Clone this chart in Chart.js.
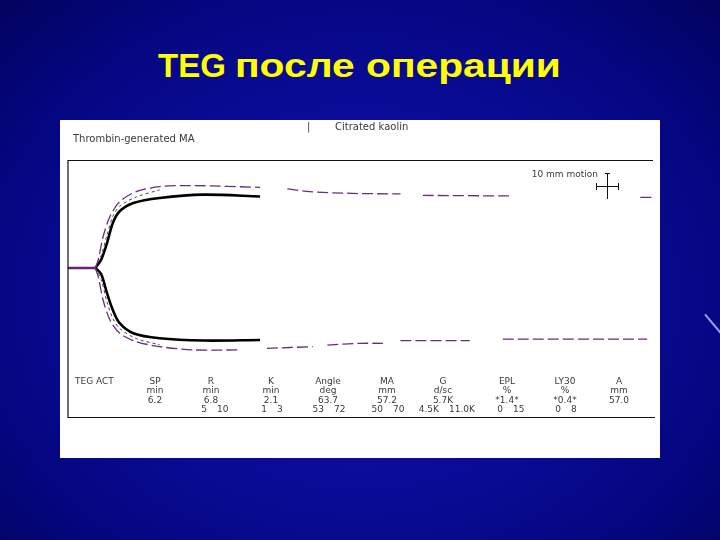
<!DOCTYPE html>
<html>
<head>
<meta charset="utf-8">
<script src="https://cdn.jsdelivr.net/npm/chart.js@4.4.0/dist/chart.umd.min.js"></script>
<style>
  html, body { margin: 0; padding: 0; }
  body {
    width: 720px; height: 540px; position: relative; overflow: hidden;
    background: radial-gradient(ellipse at 50% 55%, #1216b0 0%, #0a0c98 45%, #050680 75%, #02035e 100%);
  }
  #title {
    position: absolute; left: 158px; top: 46px; white-space: nowrap;
    font-family: "Liberation Sans", Arial, sans-serif; font-weight: bold;
    font-size: 33px; line-height: 40px; color: #ffff00;
  }
  #title span { display: inline-block; transform: scaleX(1.235); transform-origin: left center; }
  #box { position: absolute; left: 60px; top: 120px; width: 600px; height: 338px; background: #fff; }
  #deco {
    position: absolute; left: 700px; top: 324px; width: 28px; height: 2px;
    background: #c8c0ff; transform: rotate(50deg); opacity: 0.8;
  }
</style>
</head>
<body>
<div id="title">TEG <span>после операции</span></div>
<div id="box"><canvas id="tegChart" width="600" height="338"></canvas></div>
<div id="deco"></div>
<script>
// time (min) and amplitude (mm)
var baseT = [0, 2.8];
var baseAmp = [0, 0];

var curveT = [2.8, 3.4, 4.0, 4.6, 5.3, 6.7, 9.4, 13.9, 19.7];
var curveUpper = [0, 3.3, 9.9, 17.9, 22.5, 25.8, 27.8, 29.1, 28.4];
var curveLower = [0, -2.4, -10.0, -16.7, -21.9, -25.9, -27.9, -28.8, -28.6];

var innerT = [2.8, 3.4, 4.0, 4.6, 5.3, 7.0, 9.4];
var innerUpper = [0, 5.0, 13.0, 20.5, 24.5, 28.2, 31.0];
var innerLower = [0, -4.5, -13.5, -20.0, -24.0, -28.0, -30.5];

var outerUpT = [2.8, 3.1, 3.6, 4.3, 5.3, 7.0, 9.4, 12.9, 19.7, 20.8, 22.5, 24.8, 29.2, 34.1, 35.5, 36.4, 45.3, 50, 58.7, 60];
var outerUp = [0, 3.2, 12.4, 20.4, 26.3, 30.3, 32.3, 32.7, 32.0, null, 31.4, 30.3, 29.6, 29.4, null, 28.8, 28.6, null, 28.0, 28.0];
var outerLowT = [2.8, 3.1, 3.6, 4.3, 5.3, 7.0, 9.4, 12.9, 17.6, 19.0, 20.4, 25.1, 25.6, 26.6, 29.9, 32.3, 33.5, 34.1, 41.2, 43, 44.6, 59.4];
var outerLow = [0, -3.4, -12.7, -20.6, -25.9, -29.2, -31.2, -32.5, -32.5, null, -31.9, -31.2, null, -30.6, -29.9, -29.9, null, -28.8, -28.8, null, -28.2, -28.2];

var colNames = ['SP', 'R', 'K', 'Angle', 'MA', 'G', 'EPL', 'LY30', 'A'];
var colUnits = ['min', 'min', 'min', 'deg', 'mm', 'd/sc', '%', '%', 'mm'];
var colValues = ['6.2', '6.8', '2.1', '63.7', '57.2', '5.7K', '*1.4*', '*0.4*', '57.0'];
var rangeLow = ['', '5', '1', '53', '50', '4.5K', '0', '0', ''];
var rangeHigh = ['', '10', '3', '72', '70', '11.0K', '15', '8', ''];

function pts(xs, ys) {
    return xs.map(function (x, i) { return { x: x, y: ys[i] }; });
}

var overlay = {
    id: 'overlay',
    afterDraw: function (chart) {
        var ctx = chart.ctx;
        var a = chart.chartArea;
        ctx.save();
        // frame
        ctx.strokeStyle = '#111';
        ctx.lineWidth = 1.2;
        ctx.beginPath();
        ctx.moveTo(593, 40.5); ctx.lineTo(a.left, 40.5);
        ctx.lineTo(a.left, 297.5); ctx.lineTo(595, 297.5);
        ctx.stroke();

        // header texts
        ctx.fillStyle = '#3a3a3a';
        ctx.textBaseline = 'middle';
        ctx.font = '10px "DejaVu Sans"';
        ctx.textAlign = 'left';
        ctx.fillText('Thrombin-generated MA', 13, 19);
        ctx.fillText('|', 247, 7);
        ctx.fillText('Citrated kaolin', 275, 7);
        ctx.font = '9px "DejaVu Sans"';
        ctx.textAlign = 'right';
        ctx.fillText('10 mm motion', 538, 55);

        // motion scale cross
        ctx.strokeStyle = '#111';
        ctx.lineWidth = 1;
        ctx.beginPath();
        ctx.moveTo(547.5, 53); ctx.lineTo(547.5, 79);
        ctx.moveTo(545, 53.5); ctx.lineTo(550, 53.5);
        ctx.moveTo(536, 66.5); ctx.lineTo(559, 66.5);
        ctx.moveTo(536.5, 63); ctx.lineTo(536.5, 70);
        ctx.moveTo(558.5, 63); ctx.lineTo(558.5, 70);
        ctx.stroke();

        // result table
        var colX = [95, 151, 211, 268, 327, 383, 447, 505, 559];
        var rowY = [262, 271, 281, 290];
        ctx.font = '9px "DejaVu Sans"';
        ctx.textAlign = 'left';
        ctx.fillText('TEG ACT', 15, rowY[0]);
        ctx.textAlign = 'center';
        colNames.forEach(function (n, i) {
            ctx.fillText(n, colX[i], rowY[0]);
            ctx.fillText(colUnits[i], colX[i], rowY[1]);
            ctx.fillText(colValues[i], colX[i], rowY[2]);
            if (rangeLow[i]) {
                ctx.textAlign = 'right';
                ctx.fillText(rangeLow[i], colX[i] - 4, rowY[3]);
                ctx.textAlign = 'left';
                ctx.fillText(rangeHigh[i], colX[i] + 6, rowY[3]);
                ctx.textAlign = 'center';
            }
        });
        ctx.restore();
    }
};

var ctxTeg = document.getElementById('tegChart').getContext('2d');
var tegChart = new Chart(ctxTeg, {
    type: 'line',
    data: {
        datasets: [
            {
                label: 'outer upper', data: pts(outerUpT, outerUp),
                borderColor: '#6b2c80', borderWidth: 1.3, borderDash: [11, 4], tension: 0.3
            },
            {
                label: 'outer lower', data: pts(outerLowT, outerLow),
                borderColor: '#6b2c80', borderWidth: 1.3, borderDash: [11, 4], tension: 0.3
            },
            {
                label: 'inner upper', data: pts(innerT, innerUpper),
                borderColor: '#444', borderWidth: 1, borderDash: [3, 3], tension: 0.3
            },
            {
                label: 'inner lower', data: pts(innerT, innerLower),
                borderColor: '#444', borderWidth: 1, borderDash: [3, 3], tension: 0.3
            },
            {
                label: 'baseline', data: pts(baseT, baseAmp),
                borderColor: '#6a1f72', borderWidth: 2.5
            },
            {
                label: 'upper', data: pts(curveT, curveUpper),
                borderColor: '#000', borderWidth: 2.6, tension: 0.3
            },
            {
                label: 'lower', data: pts(curveT, curveLower),
                borderColor: '#000', borderWidth: 2.6, tension: 0.3
            }
        ]
    },
    options: {
        responsive: false,
        animation: false,
        devicePixelRatio: 1,
        spanGaps: false,
        elements: { point: { radius: 0 } },
        layout: { padding: { left: 8, top: 40, right: 7, bottom: 82 } },
        plugins: { legend: { display: false }, tooltip: { enabled: false } },
        scales: {
            x: { type: 'linear', min: 0, max: 60, display: false },
            y: { min: -42.86, max: 42.86, display: false }
        }
    },
    plugins: [overlay]
});
</script>
</body>
</html>
